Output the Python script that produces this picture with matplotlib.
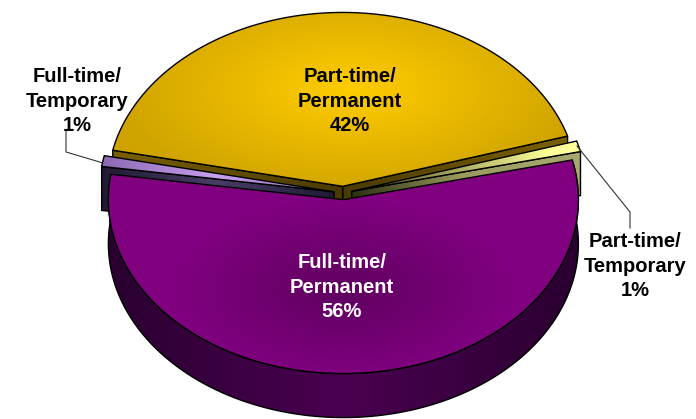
# -*- coding: utf-8 -*-
import numpy as np
import matplotlib
matplotlib.use("Agg")
import matplotlib.pyplot as plt
from matplotlib.colors import LinearSegmentedColormap
from matplotlib.patches import Polygon

plt.rcParams["font.family"] = ["Liberation Sans", "DejaVu Sans"]

# data, in the order the pie goes round from its start angle
labels = ["Part-time/\nPermanent\n42%", "Full-time/\nTemporary\n1%",
          "Full-time/\nPermanent\n56%", "Part-time/\nTemporary\n1%"]
shares = [42, 1, 56, 1]

# pie geometry, in image pixels
CX, CY = 343, 193
RX, RATIO = 235, 0.74
DEPTH = 44
EXPLODE = 9
START = 16.8

fig = plt.figure(figsize=(6.96, 4.19), dpi=100)
ax = fig.add_axes([0, 0, 1, 1])
ax.set_xlim(0, 696)
ax.set_ylim(419, 0)
ax.axis("off")

W, H = 696, 419
xx, yy = np.meshgrid(np.arange(W) + 0.5, np.arange(H) + 0.5)


def pt(c, ang, r=RX):
    a = np.radians(ang)
    return np.array([c[0] + r * np.cos(a), c[1] - r * RATIO * np.sin(a)])


def fill(verts, cmap_cols, values, z, lw=1.0):
    # gradient clipped to a polygon, black outline on top
    cmap = LinearSegmentedColormap.from_list("c", cmap_cols)
    im = ax.imshow(np.clip(values, 0, 1), extent=(0, W, H, 0), cmap=cmap, vmin=0, vmax=1,
                   zorder=z, aspect="auto", interpolation="bilinear")
    p = Polygon(verts, closed=True, facecolor="none", edgecolor="none", transform=ax.transData)
    ax.add_patch(p)
    im.set_clip_path(p)
    ax.add_patch(Polygon(verts, closed=True, facecolor="none", edgecolor="black", linewidth=lw, zorder=z + 0.1))


# slice angles come from the shares
angles = START + np.cumsum([0] + shares) * 3.6
centers = []
for i in range(4):
    mid = np.radians((angles[i] + angles[i + 1]) / 2)
    centers.append((CX + EXPLODE * np.cos(mid), CY - EXPLODE * RATIO * np.sin(mid)))


def top_face(i):
    arc = [pt(centers[i], a) for a in np.linspace(angles[i], angles[i + 1], 160)]
    return [np.array(centers[i])] + arc


def cut_wall(i, ang):
    c = np.array(centers[i])
    e = pt(c, ang)
    down = np.array([0, DEPTH])
    return [c, e, e + down, c + down]


# gold slice
gold_dist = np.hypot((xx - 350) / 240, (yy - 90) / 110)
fill(cut_wall(0, angles[0]), ["#4a3a00", "#7a6000"], (xx - 343) / 220, 1)
fill(cut_wall(0, angles[1]), ["#4a3a00", "#7a6000"], (343 - xx) / 230, 1.2)
fill(top_face(0), ["#ffcc00", "#cfa300"], gold_dist, 2)

# full-time/temporary sliver
fill(cut_wall(1, angles[2]), ["#1f1a33", "#4a3c68", "#1f1a33"], (xx - 100) / 235, 3)
fill(top_face(1), ["#8a68b0", "#c8a0f0", "#8a68b0"], (xx - 100) / 235, 3.5)

# part-time/temporary sliver
fill(cut_wall(3, angles[3]), ["#2a2e10", "#9a9a60", "#a8a870"], (xx - 350) / 225, 4)
fill(top_face(3), ["#5a5a30", "#ffff99"], (xx - 370) / 180, 4.5)

# full-time/permanent slice, rim first then top
c = np.array(centers[2])
rim_top = [pt(c, a) for a in np.linspace(angles[2], angles[3], 240)]
rim_bot = [p + np.array([0, DEPTH]) for p in rim_top[::-1]]
rim = np.array(rim_top + rim_bot)
fill(rim, ["#2a0030", "#4a0050", "#2a0030"], (xx - 108) / 470, 5)
purple_dist = np.hypot((xx - 343) / 170, (yy - 290) / 90)
fill(top_face(2), ["#600060", "#800080"], purple_dist, 6)

# leader lines
ax.plot([66, 66, 103], [130, 152, 163], color="#333333", lw=0.8, zorder=3)
ax.plot([577, 630, 630], [146, 212, 228], color="#333333", lw=0.8, zorder=7)

# labels
text_pos = [(350, 101, "black"), (77, 101, "black"), (342, 287, "white"), (635, 266, "black")]
for lab, (x, y, col) in zip(labels, text_pos):
    ax.text(x, y, lab, ha="center", va="center", fontsize=14.5, fontweight="bold",
            color=col, linespacing=1.34, zorder=8)

fig.savefig("out.png", dpi=100)
